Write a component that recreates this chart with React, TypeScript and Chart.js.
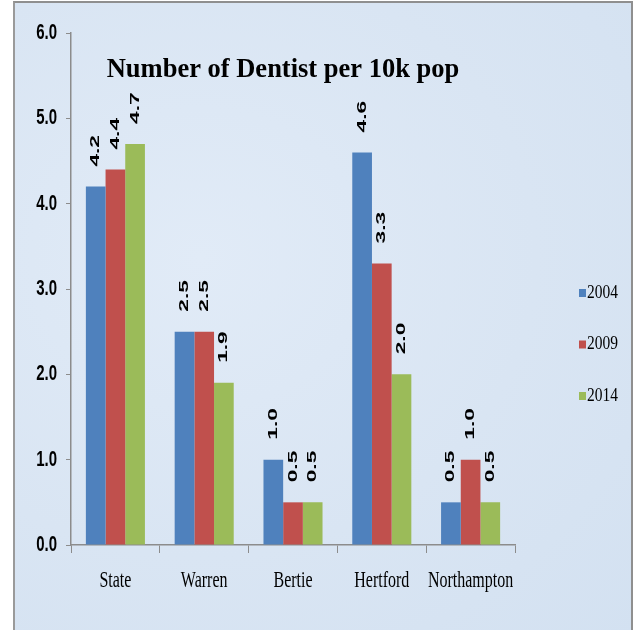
import React, { useEffect, useRef } from "react";
import { Chart, registerables } from "chart.js";

Chart.register(...registerables);

const categories = ["State", "Warren", "Bertie", "Hertford", "Northampton"];
const seriesLabels = ["2004", "2009", "2014"];
const values2004 = [4.2, 2.5, 1.0, 4.6, 0.5];
const values2009 = [4.4, 2.5, 0.5, 3.3, 1.0];
const values2014 = [4.7, 1.9, 0.5, 2.0, 0.5];
const seriesColors = ["#4f81bd", "#c0504d", "#9bbb59"];
const yMin = 0;
const yMax = 6;
const yStep = 1;
const titleText = "Number of Dentist per 10k pop";

const textPlugin = {
  id: "customText",
  afterDraw(chart: any) {
    const ctx = chart.ctx as CanvasRenderingContext2D;
    const xs = chart.scales.x;
    const ys = chart.scales.y;
    ctx.save();
    ctx.fillStyle = "#000";

    // y tick labels
    ctx.font = 'bold 15px "Liberation Sans", Arial, sans-serif';
    ctx.textAlign = "right";
    ctx.textBaseline = "middle";
    ys.ticks.forEach((t: any) => {
      const y = ys.getPixelForValue(t.value);
      ctx.save();
      ctx.translate(ys.right - 14, y);
      ctx.scale(1, 1.45);
      ctx.fillText(Number(t.value).toFixed(1), 0, 0);
      ctx.restore();
    });

    // x category labels
    ctx.font = '16px "Liberation Serif", "Times New Roman", serif';
    ctx.textAlign = "center";
    ctx.textBaseline = "alphabetic";
    chart.data.labels.forEach((lab: string, i: number) => {
      const x = xs.getPixelForTick(i);
      ctx.save();
      ctx.translate(x, xs.top + 42);
      ctx.scale(1, 1.4);
      ctx.fillText(lab, 0, 0);
      ctx.restore();
    });

    // data labels (rotated)
    ctx.font = 'bold 13px "Liberation Sans", Arial, sans-serif';
    ctx.textAlign = "left";
    ctx.textBaseline = "middle";
    chart.data.datasets.forEach((ds: any, di: number) => {
      const meta = chart.getDatasetMeta(di);
      meta.data.forEach((bar: any, i: number) => {
        ctx.save();
        ctx.translate(bar.x, bar.y - 20);
        ctx.rotate(-Math.PI / 2);
        ctx.scale(1.75, 1);
        ctx.fillText(Number(ds.data[i]).toFixed(1), 0, 0);
        ctx.restore();
      });
    });

    // title
    ctx.font = 'bold 26.5px "Liberation Serif", "Times New Roman", serif';
    ctx.textAlign = "center";
    ctx.textBaseline = "alphabetic";
    ctx.fillText(titleText, 283, 77);

    // legend
    chart.data.datasets.forEach((ds: any, di: number) => {
      const cy = 293 + di * 51.5;
      ctx.fillStyle = ds.backgroundColor;
      ctx.fillRect(579, cy - 4, 7, 8);
      ctx.fillStyle = "#000";
      ctx.font = '15.5px "Liberation Serif", "Times New Roman", serif';
      ctx.textAlign = "left";
      ctx.textBaseline = "middle";
      ctx.save();
      ctx.translate(587, cy);
      ctx.scale(1, 1.2);
      ctx.fillText(ds.label, 0, 0);
      ctx.restore();
    });

    ctx.restore();
  },
};

export default function App() {
  const canvasRef = useRef<HTMLCanvasElement | null>(null);

  useEffect(() => {
    document.body.style.margin = "0";
    const canvas = canvasRef.current;
    if (!canvas) return;
    const valuesList = [values2004, values2009, values2014];
    const chart = new Chart(canvas, {
      type: "bar",
      data: {
        labels: categories,
        datasets: seriesLabels.map((lab, i) => ({
          label: lab,
          data: valuesList[i],
          backgroundColor: seriesColors[i],
          borderWidth: 0,
          categoryPercentage: 0.665,
          barPercentage: 1.0,
        })),
      },
      options: {
        animation: false,
        responsive: false,
        maintainAspectRatio: false,
        layout: { padding: { top: 33, right: 123, bottom: 0, left: 0 } },
        plugins: {
          legend: { display: false },
          title: { display: false },
          tooltip: { enabled: false },
        },
        scales: {
          x: {
            grid: {
              display: true,
              drawOnChartArea: false,
              drawTicks: true,
              tickLength: 8,
              color: "#8c8c8c",
              offset: true,
            },
            border: { display: true, color: "#8c8c8c", width: 1.5 },
            ticks: { display: false },
            afterFit: (scale: any) => {
              scale.height = 85;
            },
          },
          y: {
            min: yMin,
            max: yMax,
            grid: {
              display: true,
              drawOnChartArea: false,
              drawTicks: true,
              tickLength: 5,
              color: "#8c8c8c",
            },
            border: { display: true, color: "#8c8c8c", width: 1.5 },
            ticks: { display: false, stepSize: yStep },
            afterFit: (scale: any) => {
              scale.width = 71;
            },
          },
        },
      },
      plugins: [textPlugin],
    });
    return () => chart.destroy();
  }, []);

  return (
    <div style={{ position: "relative", width: 638, height: 630, background: "#fff", overflow: "hidden" }}>
      <div
        style={{
          position: "absolute",
          left: 13,
          top: 1,
          width: 620,
          height: 640,
          boxSizing: "border-box",
          borderTop: "2px solid #8f8f8f",
          borderLeft: "2px solid #9a9a9a",
          borderRight: "2px solid #8f8f8f",
          background:
            "radial-gradient(ellipse at 30% 40%, #e1ebf7 0%, #d9e5f3 55%, #d3e1f1 100%)",
        }}
      />
      <canvas ref={canvasRef} width={638} height={630} style={{ position: "absolute", left: 0, top: 0 }} />
    </div>
  );
}
